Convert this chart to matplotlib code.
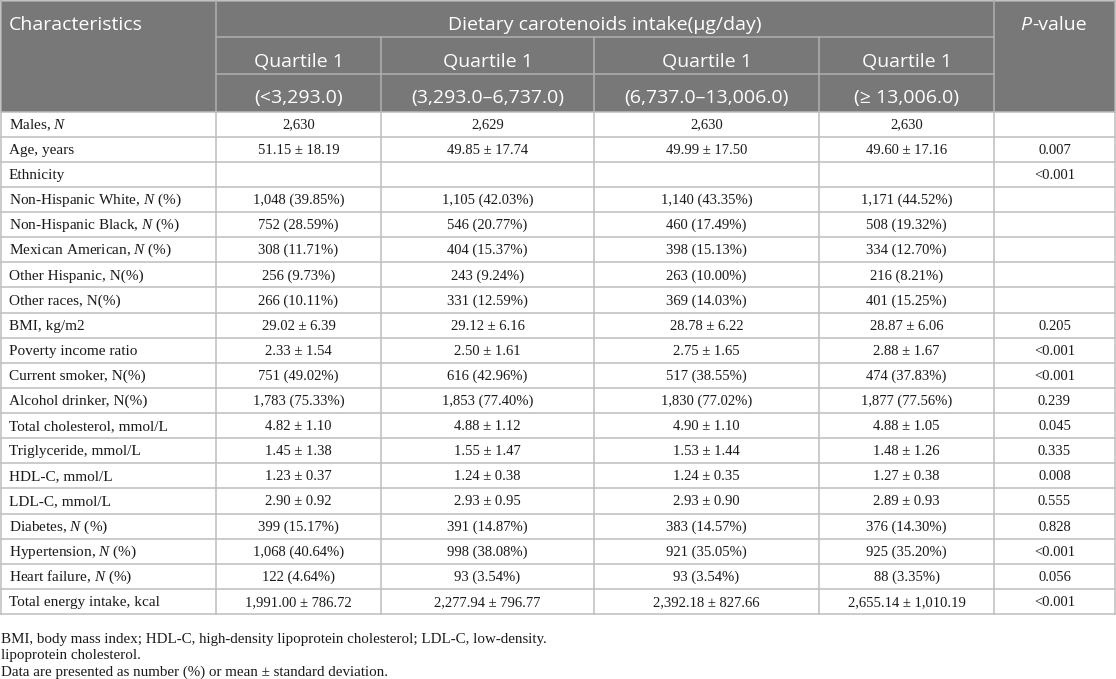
import matplotlib
matplotlib.use("Agg")
import matplotlib.pyplot as plt

plt.rcParams['mathtext.fontset'] = 'custom'
plt.rcParams['mathtext.rm'] = 'Liberation Serif'
plt.rcParams['mathtext.it'] = 'Liberation Serif:italic'

# table content
group_title = "Dietary carotenoids intake(\u03bcg/day)"
quartile_names = ["Quartile 1", "Quartile 1", "Quartile 1", "Quartile 1"]
quartile_ranges = ["(<3,293.0)", "(3,293.0\u20136,737.0)", "(6,737.0\u201313,006.0)", "(\u2265 13,006.0)"]

row_labels = [
    r"Males, $N$", "Age, years", "Ethnicity",
    r"Non-Hispanic White, $N$ (%)", r"Non-Hispanic Black, $N$ (%)",
    r"Mexican American, $N$ (%)", "Other Hispanic, N(%)", "Other races, N(%)",
    "BMI, kg/m2", "Poverty income ratio", "Current smoker, N(%)",
    "Alcohol drinker, N(%)", "Total cholesterol, mmol/L", "Triglyceride, mmol/L",
    "HDL-C, mmol/L", "LDL-C, mmol/L", r"Diabetes, $N$ (%)",
    r"Hypertension, $N$ (%)", r"Heart failure, $N$ (%)", "Total energy intake, kcal",
]
q1 = ["2,630", "51.15 \u00b1 18.19", "", "1,048 (39.85%)", "752 (28.59%)",
      "308 (11.71%)", "256 (9.73%)", "266 (10.11%)", "29.02 \u00b1 6.39",
      "2.33 \u00b1 1.54", "751 (49.02%)", "1,783 (75.33%)", "4.82 \u00b1 1.10",
      "1.45 \u00b1 1.38", "1.23 \u00b1 0.37", "2.90 \u00b1 0.92", "399 (15.17%)",
      "1,068 (40.64%)", "122 (4.64%)", "1,991.00 \u00b1 786.72"]
q2 = ["2,629", "49.85 \u00b1 17.74", "", "1,105 (42.03%)", "546 (20.77%)",
      "404 (15.37%)", "243 (9.24%)", "331 (12.59%)", "29.12 \u00b1 6.16",
      "2.50 \u00b1 1.61", "616 (42.96%)", "1,853 (77.40%)", "4.88 \u00b1 1.12",
      "1.55 \u00b1 1.47", "1.24 \u00b1 0.38", "2.93 \u00b1 0.95", "391 (14.87%)",
      "998 (38.08%)", "93 (3.54%)", "2,277.94 \u00b1 796.77"]
q3 = ["2,630", "49.99 \u00b1 17.50", "", "1,140 (43.35%)", "460 (17.49%)",
      "398 (15.13%)", "263 (10.00%)", "369 (14.03%)", "28.78 \u00b1 6.22",
      "2.75 \u00b1 1.65", "517 (38.55%)", "1,830 (77.02%)", "4.90 \u00b1 1.10",
      "1.53 \u00b1 1.44", "1.24 \u00b1 0.35", "2.93 \u00b1 0.90", "383 (14.57%)",
      "921 (35.05%)", "93 (3.54%)", "2,392.18 \u00b1 827.66"]
q4 = ["2,630", "49.60 \u00b1 17.16", "", "1,171 (44.52%)", "508 (19.32%)",
      "334 (12.70%)", "216 (8.21%)", "401 (15.25%)", "28.87 \u00b1 6.06",
      "2.88 \u00b1 1.67", "474 (37.83%)", "1,877 (77.56%)", "4.88 \u00b1 1.05",
      "1.48 \u00b1 1.26", "1.27 \u00b1 0.38", "2.89 \u00b1 0.93", "376 (14.30%)",
      "925 (35.20%)", "88 (3.35%)", "2,655.14 \u00b1 1,010.19"]
p_values = ["", "0.007", "<0.001", "", "", "", "", "", "0.205", "<0.001",
            "<0.001", "0.239", "0.045", "0.335", "0.008", "0.555", "0.828",
            "<0.001", "0.056", "<0.001"]
footnotes = [
    "BMI, body mass index; HDL-C, high-density lipoprotein cholesterol; LDL-C, low-density.",
    "lipoprotein cholesterol.",
    "Data are presented as number (%) or mean \u00b1 standard deviation.",
]

# layout in pixels
W, H = 1116, 679
col_x = [1, 216, 381, 594, 819, 994, 1115]
head_y = [1, 37, 74, 111.5]
body_top, body_bot = 111.5, 614
n_rows = len(row_labels)
row_h = (body_bot - body_top) / n_rows

head_bg = '#787878'
head_line = '#b0b0b0'
grid = '#bdbdbd'
txt = '#1a1a1a'
sans = 'Open Sans'
serif = 'Liberation Serif'

fig = plt.figure(figsize=(W / 100, H / 100), dpi=100, facecolor='white')
ax = fig.add_axes([0, 0, 1, 1])
ax.set_xlim(0, W)
ax.set_ylim(H, 0)
ax.axis('off')

# header background
ax.add_patch(plt.Rectangle((col_x[0], head_y[0]), col_x[-1] - col_x[0], head_y[-1] - head_y[0],
                           facecolor=head_bg, edgecolor='none', zorder=1))

# header lines
ax.plot([col_x[1], col_x[5]], [head_y[1]] * 2, color=head_line, lw=1.1, zorder=2)
ax.plot([col_x[1], col_x[5]], [head_y[2]] * 2, color=head_line, lw=1.1, zorder=2)
for cx in col_x[2:5]:
    ax.plot([cx, cx], [head_y[1], head_y[3]], color=head_line, lw=1.1, zorder=2)
for cx in [col_x[0], col_x[1], col_x[5], col_x[6]]:
    ax.plot([cx, cx], [head_y[0], head_y[3]], color=head_line, lw=1.1, zorder=2)
ax.plot([col_x[0], col_x[-1]], [head_y[0]] * 2, color=head_line, lw=1.1, zorder=2)

# header text
hs = 14
ax.text(col_x[0] + 8, head_y[0] + 24, "Characteristics", fontsize=hs, family=sans,
        color='white', ha='left', va='center', zorder=3)
ax.text((col_x[1] + col_x[5]) / 2, head_y[0] + 24, group_title, fontsize=hs, family=sans,
        color='white', ha='center', va='center', zorder=3)
pv = ax.text((col_x[5] + col_x[6]) / 2 - 34, head_y[0] + 24, "P", fontsize=hs, family=sans,
             style='italic', color='white', ha='left', va='center', zorder=3)
fig.canvas.draw()
bb = pv.get_window_extent()
x_after = ax.transData.inverted().transform((bb.x1, 0))[0]
ax.text(x_after + 1, head_y[0] + 24, "-value", fontsize=hs, family=sans,
        color='white', ha='left', va='center', zorder=3)
for i in range(4):
    cx = (col_x[i + 1] + col_x[i + 2]) / 2
    ax.text(cx, head_y[1] + 25, quartile_names[i], fontsize=hs, family=sans,
            color='white', ha='center', va='center', zorder=3)
    ax.text(cx, head_y[2] + 24, quartile_ranges[i], fontsize=hs, family=sans,
            color='white', ha='center', va='center', zorder=3)

# body grid
for r in range(n_rows + 1):
    y = body_top + r * row_h
    ax.plot([col_x[0], col_x[-1]], [y, y], color=grid, lw=1.1, zorder=2)
for cx in col_x:
    ax.plot([cx, cx], [body_top, body_bot], color=grid, lw=1.1, zorder=2)

# body text
columns = [q1, q2, q3, q4, p_values]
for r in range(n_rows):
    yc = body_top + (r + 0.5) * row_h + 1
    ax.text(col_x[0] + 8, yc, row_labels[r], fontsize=11, family=serif, color=txt,
            ha='left', va='center', zorder=3)
    for c, vals in enumerate(columns):
        cx = (col_x[c + 1] + col_x[c + 2]) / 2
        ax.text(cx, yc, vals[r], fontsize=10.5, family=serif, color=txt,
                ha='center', va='center', zorder=3)

# footnotes
for k, line in enumerate(footnotes):
    ax.text(1, 639 + k * 16.5, line, fontsize=10.8, family=serif, color=txt,
            ha='left', va='center')

fig.savefig('out.png', dpi=100, facecolor='white')
